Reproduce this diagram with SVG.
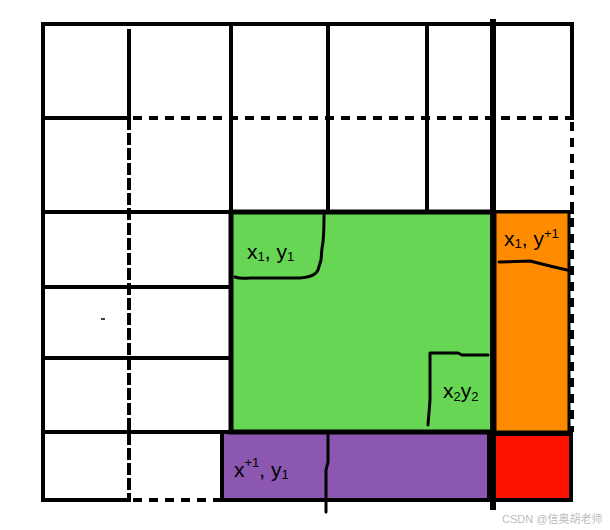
<svg xmlns="http://www.w3.org/2000/svg" width="610" height="530" viewBox="0 0 610 530">
<style>
.g{stroke:#000;stroke-width:4;fill:none;stroke-linecap:square}
.d{stroke:#000;stroke-width:4;fill:none;stroke-dasharray:9 7}
.dv{stroke:#000;stroke-width:4;fill:none;stroke-dasharray:12 3}
.box{stroke:#000;stroke-width:4}
.hand{stroke:#000;stroke-width:3;fill:none;stroke-linecap:round;stroke-linejoin:round}
.t{font-family:"Liberation Sans","DejaVu Sans",sans-serif;font-size:21px;fill:#000}
.s{font-size:13px}
</style>
<rect width="610" height="530" fill="#fff"/>
<g id="grid">
<path class="g" d="M43 24H572M43 24V500M572 24V118M129 31V118M231 24V212M328 24V212M427 24V212M43 118H129M43 212H572M43 287H231M43 358H231M43 432H222M43 500H129"/>
<path class="d" d="M133 118H572M572 122V432M133 500H222"/>
<path class="dv" d="M129 118V500"/>
</g>
<g id="purple">
<rect class="box" x="222" y="432" width="267" height="68" fill="#8B57B0"/>
<path class="hand" d="M328 424V462L326 470V512"/>
</g>
<g id="green">
<rect x="231" y="212" width="262" height="220" fill="#66D654" stroke="#000" stroke-width="5"/>
</g>
<g id="orange">
<rect x="495" y="212" width="74" height="220" fill="#FF8C00" stroke="#000" stroke-width="3"/>
</g>
<g id="red">
<rect class="box" x="490" y="434" width="81" height="66" fill="#FF1100"/>
</g>
<g id="divider">
<path stroke="#000" stroke-width="6" d="M493 19V510"/>
</g>
<g id="annotations">
<path class="hand" d="M235 277Q240 279 250 278H300Q315 277 318 270L321 260L322 248Q324 240 324 214"/>
<text class="t" x="247" y="259">x<tspan class="s" dy="2">1</tspan><tspan dy="-2">, y</tspan><tspan class="s" dy="2">1</tspan></text>
<path class="hand" d="M428 425L430 400V353H458L462 355H488"/>
<text class="t" x="443" y="398">x<tspan class="s" dy="3">2</tspan><tspan dy="-3">y</tspan><tspan class="s" dy="3">2</tspan></text>
<text class="t" x="504" y="246">x<tspan class="s" dy="2">1</tspan><tspan dy="-2">, y</tspan><tspan class="s" dy="-8">+1</tspan></text>
<path class="hand" d="M499 262L530 261L550 266L567 270" stroke-width="2"/>
<text class="t" x="234" y="477">x<tspan class="s" dy="-10">+1</tspan><tspan dy="10">, y</tspan><tspan class="s" dy="2">1</tspan></text>
<path stroke="#000" stroke-width="1.5" d="M101 319H105"/>
</g>
<g id="watermark">
<text x="502" y="523" font-family="'Liberation Sans','Noto Sans CJK SC',sans-serif" font-size="11" fill="#bdbdbd">CSDN @信奥胡老师</text>
</g>
</svg>
